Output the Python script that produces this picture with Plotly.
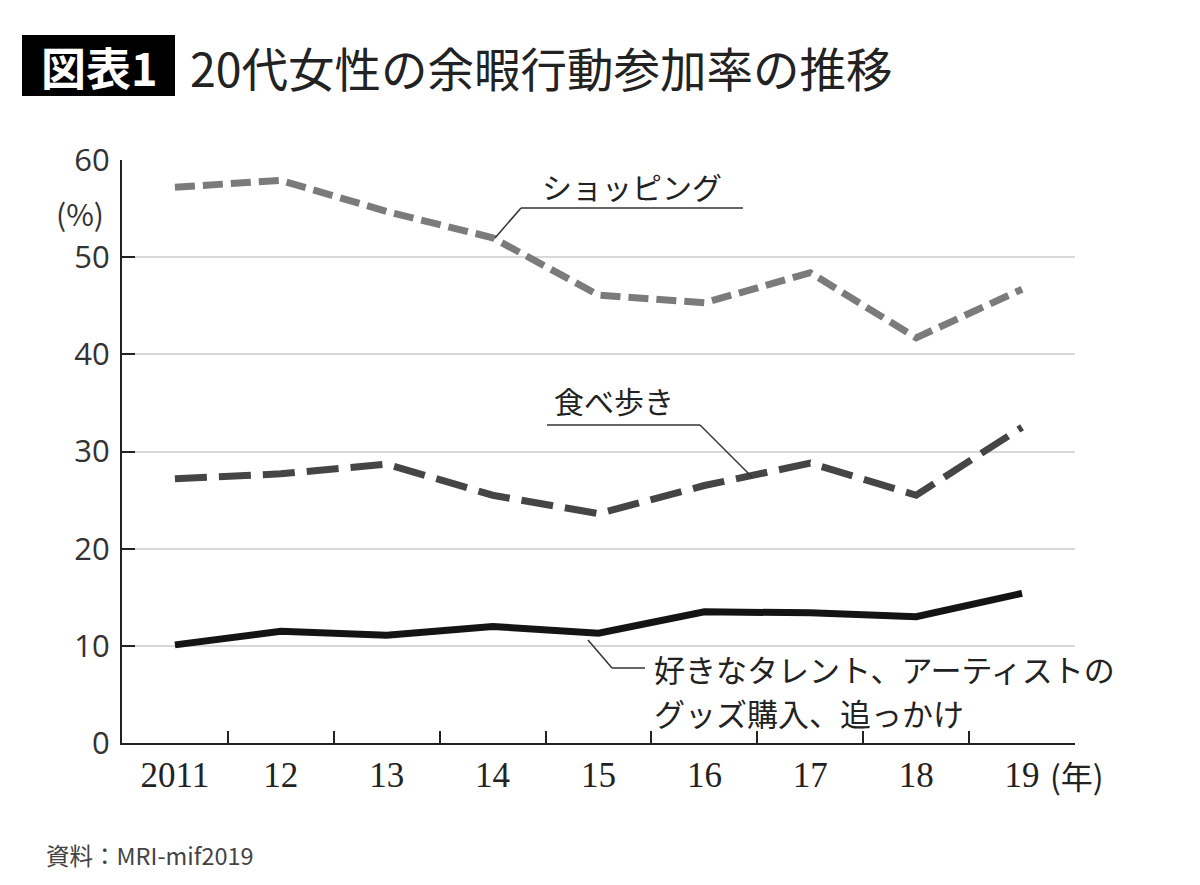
import plotly.graph_objects as go

years = ["2011", "12", "13", "14", "15", "16", "17", "18", "19"]
shopping = [57.2, 57.9, 54.7, 52.0, 46.1, 45.3, 48.4, 41.7, 46.7]
tabearuki = [27.2, 27.7, 28.7, 25.5, 23.6, 26.5, 28.8, 25.5, 32.5]
goods = [10.1, 11.5, 11.1, 12.0, 11.3, 13.5, 13.4, 13.0, 15.4]
y_ticks = [0, 10, 20, 30, 40, 50, 60]

W, H = 1200, 885
OFF = 8  # page body margin
L, R, T, B = 122, 1075, 160, 743

def px(x):
    return (x - L) / (R - L)

def py(y):
    return (B - y) / (B - T)

JP = "Noto Sans CJK JP"

fig = go.Figure()
fig.add_trace(go.Scatter(x=years, y=shopping, mode="lines",
                         line=dict(color="#7b7b7b", width=7, dash="20px,8px"),
                         name="ショッピング"))
fig.add_trace(go.Scatter(x=years, y=tabearuki, mode="lines",
                         line=dict(color="#454545", width=7, dash="32px,12px"),
                         name="食べ歩き"))
fig.add_trace(go.Scatter(x=years, y=goods, mode="lines",
                         line=dict(color="#141414", width=7),
                         name="グッズ"))

shapes = []

def seg(x0, y0, x1, y1):
    shapes.append(dict(type="line", xref="paper", yref="paper",
                       x0=px(x0), y0=py(y0), x1=px(x1), y1=py(y1),
                       line=dict(color="#333333", width=1.5)))

seg(521, 208, 743, 208)
seg(521, 208, 495, 238)
seg(547, 425, 700, 425)
seg(700, 425, 752, 477)
seg(588, 640, 612, 668)
seg(612, 668, 645, 668)
shapes.append(dict(type="rect", xref="paper", yref="paper",
                   x0=px(22), x1=px(175), y0=py(96), y1=py(35),
                   fillcolor="#000000", line=dict(width=0), layer="above"))

def note(text, x, y, size, color="#222222", anchor="left", family=JP):
    return dict(text=text, x=px(x), y=py(y), xref="paper", yref="paper",
                showarrow=False, xanchor=anchor, yanchor="middle",
                font=dict(family=family, size=size, color=color))

annotations = [
    note("<b>図表1</b>", 99, 66, 45, "#ffffff", "center"),
    note("20代女性の余暇行動参加率の推移", 188, 66, 46.5),
    note("(%)", 106, 213, 30, "#333333", "right"),
    note("(年)", 1048, 775, 32),
    note("ショッピング", 540, 186, 30),
    note("食べ歩き", 552, 400, 30),
    note("好きなタレント、アーティストの", 652, 668, 31),
    note("グッズ購入、追っかけ", 652, 712, 31),
    note("資料：MRI-mif2019", 44, 855, 23.5, "#444444"),
]

fig.update_layout(
    width=W, height=H,
    margin=dict(l=L - OFF, r=W - R + OFF, t=T - OFF, b=H - B + OFF),
    plot_bgcolor="white", paper_bgcolor="white",
    showlegend=False,
    shapes=shapes, annotations=annotations,
    xaxis=dict(type="category", range=[-0.5, 8.5], tickson="boundaries",
               ticks="inside", ticklen=12, tickwidth=2, tickcolor="#222222",
               showline=True, linecolor="#222222", linewidth=2,
               showgrid=False, zeroline=False,
               tickfont=dict(family="Liberation Serif", size=35, color="#222222")),
    yaxis=dict(range=[0, 60], tickvals=y_ticks, ticks="inside", ticklen=13,
               tickwidth=2, tickcolor="#222222",
               showline=True, linecolor="#222222", linewidth=2,
               showgrid=True, gridcolor="#d8d8d8", gridwidth=1.5, zeroline=False,
               ticklabelstandoff=4,
               tickfont=dict(family="Open Sans", size=31, color="#333333")),
)

fig.write_html("out.html")
